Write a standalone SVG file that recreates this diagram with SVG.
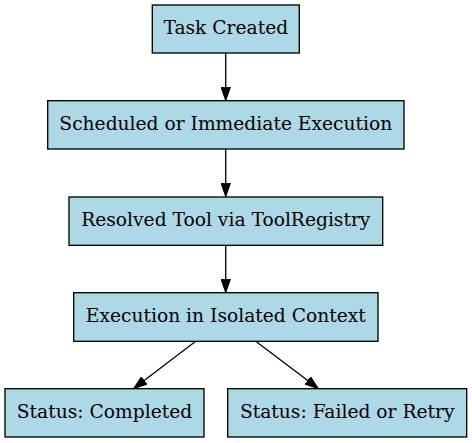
<svg xmlns="http://www.w3.org/2000/svg" width="472" height="443" viewBox="0 0 472 443">
<defs>
<style>
.n rect{fill:#add8e6;stroke:#000;stroke-width:1.33}
.n text{font-family:"DejaVu Serif",serif;font-size:18.67px;fill:#000;text-anchor:middle}
.e line{stroke:#000;stroke-width:1.33}
</style>
<marker id="ah" markerWidth="14" markerHeight="10" refX="13.3" refY="5" orient="auto" markerUnits="userSpaceOnUse" viewBox="0 0 14 10">
<path d="M0,0.3 L13.3,5 L0,9.7 Z" fill="#000" stroke="#000" stroke-width="1"/>
</marker>
</defs>
<rect width="472" height="443" fill="#fff"/>
<g id="edges" class="e">
<line x1="225.7" y1="53" x2="225.7" y2="100.5" marker-end="url(#ah)"/>
<line x1="225.7" y1="149" x2="225.7" y2="196.5" marker-end="url(#ah)"/>
<line x1="225.7" y1="245.3" x2="225.7" y2="292.5" marker-end="url(#ah)"/>
<line x1="195.7" y1="341.3" x2="133.7" y2="388.5" marker-end="url(#ah)"/>
<line x1="255.7" y1="341.3" x2="318.3" y2="388.5" marker-end="url(#ah)"/>
</g>
<g id="task-created" class="n">
<rect x="152.3" y="5" width="147" height="48"/>
<text x="225.8" y="33.7">Task Created</text>
</g>
<g id="scheduled" class="n">
<rect x="47.7" y="100.7" width="356.3" height="48.3"/>
<text x="225.8" y="129.7">Scheduled or Immediate Execution</text>
</g>
<g id="resolved" class="n">
<rect x="69" y="197" width="313.7" height="48.3"/>
<text x="225.8" y="226">Resolved Tool via ToolRegistry</text>
</g>
<g id="execution" class="n">
<rect x="73.7" y="292.7" width="304.3" height="48.6"/>
<text x="225.8" y="321.7">Execution in Isolated Context</text>
</g>
<g id="completed" class="n">
<rect x="5" y="388.7" width="199" height="48.3"/>
<text x="104.5" y="417.7">Status: Completed</text>
</g>
<g id="failed" class="n">
<rect x="227.7" y="388.7" width="239" height="48.3"/>
<text x="347.2" y="417.7">Status: Failed or Retry</text>
</g>
</svg>
